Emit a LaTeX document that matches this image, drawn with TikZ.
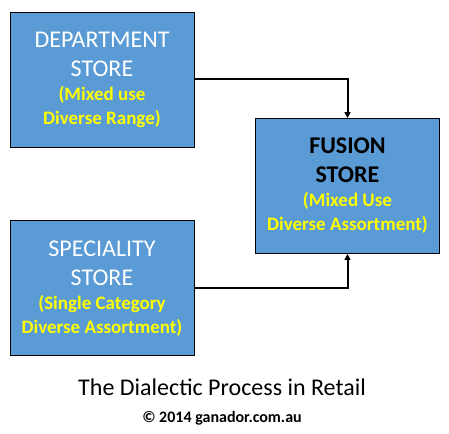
\documentclass[tikz,border=0pt]{standalone}
\usepackage{fontspec}
\setmainfont{Carlito}
\usepackage{xcolor}
\usetikzlibrary{arrows.meta, positioning}
\definecolor{storeblue}{HTML}{5B9BD5}
\definecolor{noteyellow}{HTML}{FFFF00}
\newcommand{\storenote}[1]{{\bfseries\fontsize{19}{24}\selectfont\color{noteyellow}#1}}

\begin{document}
\begin{tikzpicture}[
    x=1pt, y=-1pt,
    store/.style={draw=black, fill=storeblue, line width=0.9pt, minimum width=184pt, minimum height=135pt, align=center, inner sep=2pt, font=\fontsize{24}{29}\selectfont, text=white},
    arrow/.style={-{Triangle[length=6pt, width=6pt]}, line width=2pt, draw=black}
]
    \useasboundingbox (0,0) rectangle (449,433);

    % Store Nodes
    \node[store] (dept) at (102,79.5) {DEPARTMENT\\STORE\\[-5pt]\storenote{(Mixed use}\\[-5pt]\storenote{Diverse Range)}};
    \node[store, below=73pt of dept] (spec) {SPECIALITY\\STORE\\[-5pt]\storenote{(Single Category}\\[-5pt]\storenote{Diverse Assortment)}};
    \node[store, text=black, font=\bfseries\fontsize{24}{29}\selectfont] (fusion) at (347.5,186) {FUSION\\STORE\\[-5pt]\storenote{(Mixed Use}\\[-5pt]\storenote{Diverse Assortment)}};

    % Caption
    \node[font=\fontsize{24}{28}\selectfont, anchor=base] (title) at (222,395) {The Dialectic Process in Retail};
    \node[font=\bfseries\fontsize{16}{19}\selectfont, anchor=base] (credit) at (222,422) {\textcopyright{} 2014 ganador.com.au};

    % Connectors
    \draw[arrow] (dept.east) -| (fusion.north);
    \draw[arrow] (spec.east) -| (fusion.south);
\end{tikzpicture}
\end{document}
